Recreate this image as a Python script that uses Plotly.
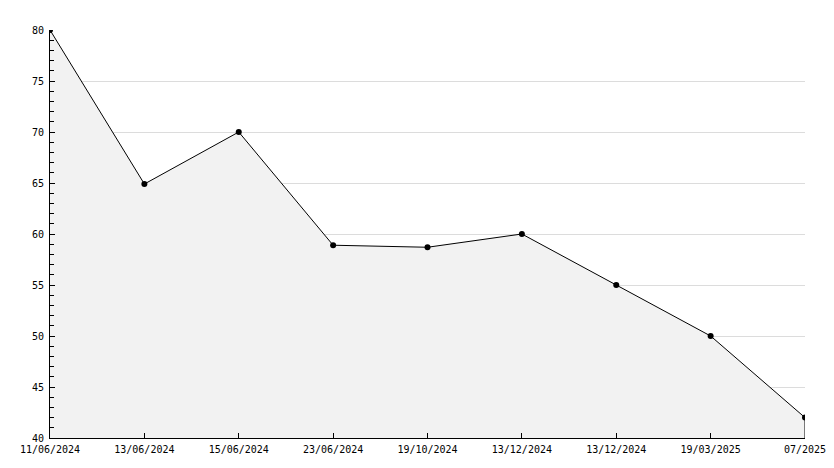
import plotly.graph_objects as go

labels = ["11/06/2024", "13/06/2024", "15/06/2024", "23/06/2024", "19/10/2024",
          "13/12/2024", "13/12/2024", "19/03/2025", "07/2025"]
values = [80, 64.9, 70, 58.9, 58.7, 60, 55, 50, 42]
y_min, y_max = 40, 80

idx = list(range(len(values)))

fig = go.Figure()
fig.add_trace(go.Scatter(
    x=idx, y=values, mode="lines+markers",
    line=dict(color="black", width=1),
    fill="tozeroy", fillcolor="#f2f2f2",
    marker=dict(symbol="circle", size=6, color="black"),
    hoverinfo="skip", showlegend=False,
))
# right edge of filled area
fig.add_trace(go.Scatter(
    x=[idx[-1], idx[-1]], y=[y_min, values[-1]], mode="lines",
    line=dict(color="black", width=1), hoverinfo="skip", showlegend=False,
))

fig.update_layout(
    width=818, height=452,
    margin=dict(l=42, r=21, t=22, b=22),
    plot_bgcolor="white", paper_bgcolor="white",
    font=dict(family="DejaVu Sans Mono", size=10, color="black"),
    xaxis=dict(
        range=[0, len(values) - 1], tickvals=idx, ticktext=labels,
        showgrid=False, zeroline=False,
        showline=True, linecolor="black", linewidth=1,
        ticks="inside", ticklen=5, tickcolor="black",
        ticklabelstandoff=2, ticklabeloverflow="allow",
        automargin=False,
        fixedrange=True,
    ),
    yaxis=dict(
        range=[y_min, y_max], dtick=5, tick0=40,
        showgrid=True, gridcolor="#dcdcdc", gridwidth=1,
        zeroline=False,
        showline=True, linecolor="black", linewidth=1,
        ticks="inside", ticklen=5, tickcolor="black",
        ticklabelstandoff=3,
        minor=dict(dtick=1, ticks="inside", ticklen=4, tickcolor="black", showgrid=False),
        automargin=False,
        fixedrange=True,
    ),
)

fig.write_html("out.html")
